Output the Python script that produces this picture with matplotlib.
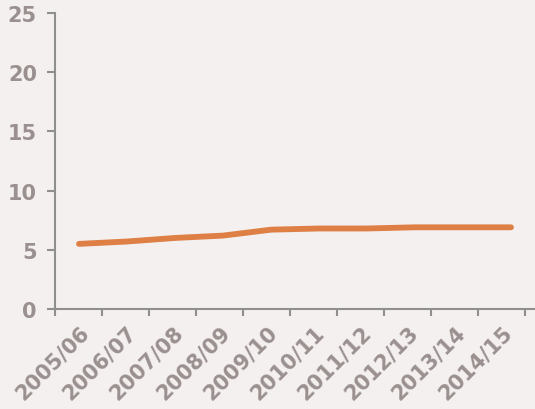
import matplotlib
matplotlib.use("Agg")
import matplotlib.pyplot as plt

categories = ["2005/06", "2006/07", "2007/08", "2008/09", "2009/10",
              "2010/11", "2011/12", "2012/13", "2013/14", "2014/15"]
values = [5.5, 5.7, 6.0, 6.2, 6.7, 6.8, 6.8, 6.9, 6.9, 6.9]
y_ticks = [0, 5, 10, 15, 20, 25]

bg = "#f4f0ef"
txt = "#9a9090"
axc = "#8f8f8f"
linec = "#de7f45"

fig = plt.figure(figsize=(5.35, 4.10), dpi=100, facecolor=bg)
ax = fig.add_axes([55/535, 100/410, 1 - 55/535, 296/410])
ax.set_facecolor(bg)

n = len(categories)
x = list(range(n))
ax.plot(x, values, color=linec, lw=4.2, solid_capstyle="round", solid_joinstyle="round")

r = 47 / 48
ax.set_ylim(0, 25)
ax.set_xlim(-0.5, 9.5)
ax.set_yticks(y_ticks)
ax.set_yticklabels([str(t) for t in y_ticks])
ax.set_xticks([-0.5 + r * k for k in range(n + 1)])
ax.set_xticklabels([])
ax.set_xticks([-0.5 + r * (k + 0.5) for k in range(n)], minor=True)
ax.set_xticklabels(categories, minor=True, rotation=45, ha="right",
                   rotation_mode="anchor")

for s in ["top", "right"]:
    ax.spines[s].set_visible(False)
for s in ["left", "bottom"]:
    ax.spines[s].set_color(axc)
    ax.spines[s].set_linewidth(1.5)

ax.tick_params(axis="y", colors=axc, length=6, width=1.5, pad=7,
               labelcolor=txt, labelsize=15)
ax.tick_params(axis="x", which="major", colors=axc, length=5, width=1.5)
ax.tick_params(axis="x", which="minor", length=0, pad=9, labelcolor=txt, labelsize=15)
for lab in ax.get_yticklabels() + ax.get_xticklabels(minor=True):
    lab.set_fontweight("bold")
    lab.set_fontfamily("DejaVu Sans")

fig.savefig("out.png", dpi=100, facecolor=bg)
